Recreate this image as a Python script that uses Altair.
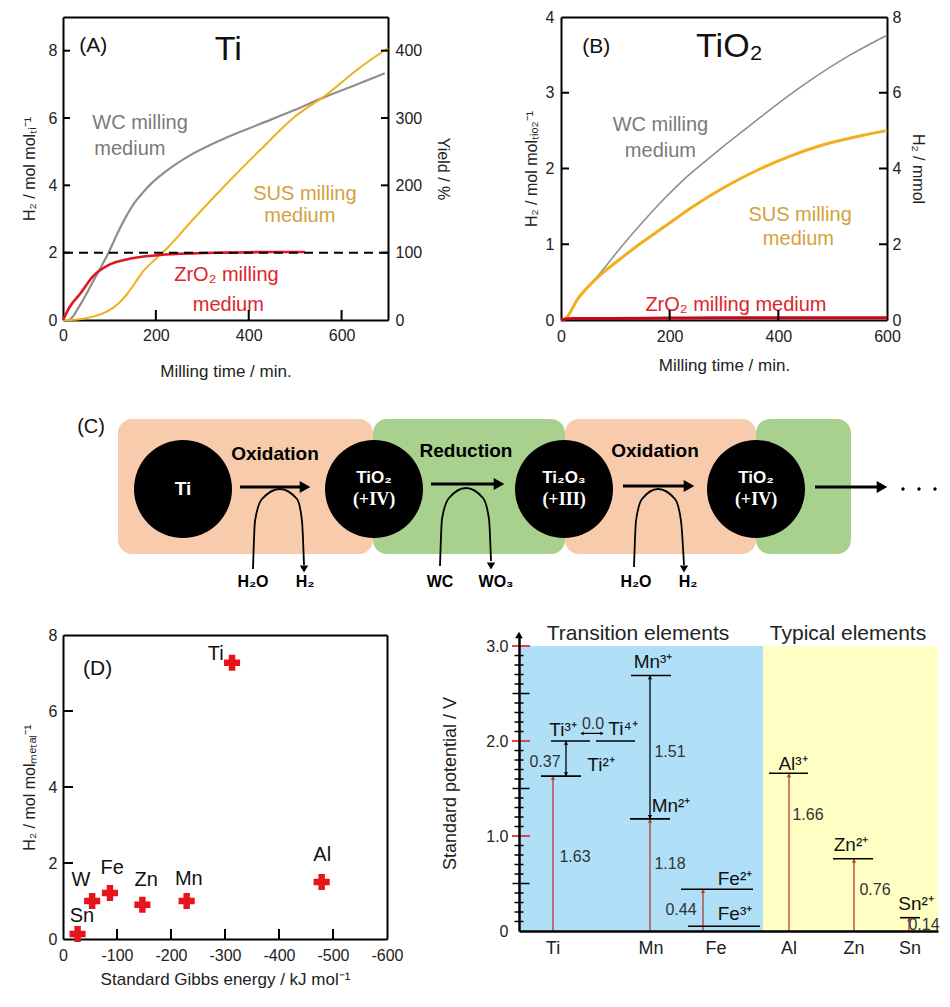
import altair as alt
import pandas as pd

FONT = "Liberation Sans"
SERIF = "Liberation Serif"

GRAY_L, GRAY_T = "#8E8E8E", "#7A7A7A"
SUS_L, SUS_T = "#F2AE1C", "#D4A13C"
RED_L, RED_T = "#E2161F", "#E0242C"
B_RED = "#C4071A"
SALMON, GREEN = "#F8CBAD", "#A9D18E"
BLUE_BG, YEL_BG = "#AFE0F8", "#FFFFC4"
E_RED = "#B23A3A"

# ---------------- Panel A : Ti ----------------
a_wc_time = [0, 12, 37, 65, 98, 120, 137, 155, 173, 190, 209, 240, 281, 352, 424, 496, 568, 630, 693]
a_wc_h2 = [0, 0.0, 0.45, 1.15, 2.0, 2.65, 3.1, 3.5, 3.8, 4.05, 4.28, 4.6, 4.95, 5.42, 5.82, 6.22, 6.65, 6.98, 7.33]
a_sus_time = [0, 15, 40, 65, 101, 120, 137, 155, 173, 200, 222, 281, 352, 424, 496, 568, 635, 700]
a_sus_h2 = [0, 0, 0.03, 0.1, 0.3, 0.5, 0.75, 1.1, 1.45, 1.82, 2.1, 3.0, 4.04, 5.04, 6.0, 6.7, 7.45, 8.08]
a_zro2_time = [0, 15, 37, 65, 101, 137, 209, 280, 352, 450, 521]
a_zro2_h2 = [0, 0.4, 0.78, 1.3, 1.65, 1.8, 1.93, 1.98, 2.0, 2.02, 2.02]
a_x_ticks = [0, 200, 400, 600]
a_y_ticks = [0, 2, 4, 6, 8]
a_yield_ticks = [0, 100, 200, 300, 400]
a_yield_ref = [100]

# ---------------- Panel B : TiO2 ----------------
b_wc_time = [0, 10, 30, 50, 70, 90, 115, 150, 190, 230, 263, 300, 350, 400, 460, 530, 600]
b_wc_h2 = [0, 0.03, 0.27, 0.44, 0.6, 0.78, 1.0, 1.29, 1.6, 1.88, 2.08, 2.3, 2.58, 2.86, 3.17, 3.49, 3.76]
b_sus_time = [0, 10, 30, 50, 70, 90, 115, 150, 190, 239, 300, 362, 424, 486, 550, 600]
b_sus_h2 = [0, 0.03, 0.27, 0.44, 0.58, 0.7, 0.84, 1.03, 1.23, 1.48, 1.75, 1.98, 2.17, 2.32, 2.43, 2.5]
b_zro2_time = [0, 20, 100, 200, 300, 400, 500, 600]
b_zro2_h2 = [0, 0.02, 0.02, 0.025, 0.03, 0.03, 0.03, 0.03]
b_x_ticks = [0, 200, 400, 600]
b_y_ticks = [0, 1, 2, 3, 4]
b_mmol_ticks = [0, 2, 4, 6, 8]

# ---------------- Panel D ----------------
d_metal = ["Sn", "W", "Fe", "Zn", "Mn", "Ti", "Al"]
d_gibbs = [-27, -54, -87, -147, -229, -313, -479]
d_h2 = [0.13, 1.0, 1.21, 0.9, 1.0, 7.27, 1.5]
d_label_x = [-35, -33, -91, -154, -233, -283, -480]
d_label_y = [0.6, 1.55, 1.87, 1.55, 1.58, 7.5, 2.2]
d_x_ticks = [0, -100, -200, -300, -400, -500, -600]
d_y_ticks = [0, 2, 4, 6, 8]

# ---------------- Panel E ----------------
e_elements = ["Ti", "Mn", "Fe", "Al", "Zn", "Sn"]
e_elem_x = [34, 132, 197, 270, 335, 391]
e_red_x = [34, 131, 184, 270, 335, 390]
e_red_top = [1.63, 1.18, 0.44, 1.66, 0.76, 0.14]
e_lvl_x1 = [22, 32, 77, 111, 112, 162, 169, 250, 314, 381]
e_lvl_x2 = [62, 71, 116, 151, 152, 234, 241, 289, 354, 401]
e_lvl_v = [1.63, 2.0, 2.0, 1.18, 2.69, 0.44, 0.05, 1.66, 0.76, 0.14]
e_ion_text = ["Mn³⁺", "Ti³⁺", "Ti⁴⁺", "Ti²⁺", "Mn²⁺", "Fe²⁺", "Fe³⁺", "Al³⁺", "Zn²⁺", "Sn²⁺"]
e_ion_x = [134, 44, 104, 82, 152, 216, 216, 274, 332, 397]
e_ion_v = [2.83, 2.12, 2.13, 1.75, 1.32, 0.55, 0.18, 1.76, 0.91, 0.28]
e_num_text = ["0.0", "0.37", "1.51", "1.63", "1.18", "0.44", "1.66", "0.76", "0.14"]
e_num_x = [74, 26, 151, 56, 151, 162, 289, 356, 405]
e_num_v = [2.18, 1.78, 1.88, 0.78, 0.71, 0.22, 1.22, 0.43, 0.06]
e_minor = [0.1, 0.2, 0.3, 0.4, 0.6, 0.7, 0.8, 0.9, 1.1, 1.2, 1.3, 1.4, 1.6, 1.7, 1.8, 1.9,
           2.1, 2.2, 2.3, 2.4, 2.6, 2.7, 2.8, 2.9]
e_mid = [0.5, 1.5, 2.5]
e_major = [1.0, 2.0, 3.0]
e_y_labels = [0, 1, 2, 3]


def df_xy(xs, ys, **extra):
    d = {"x": xs, "y": ys}
    d.update(extra)
    return pd.DataFrame(d)


def enc(xs, xa, ys, ya):
    return dict(x=alt.X("x:Q", scale=xs, axis=xa), y=alt.Y("y:Q", scale=ys, axis=ya))


def text_layer(items, e, **mk):
    df = pd.DataFrame(items, columns=["t", "x", "y"])
    return alt.Chart(df).mark_text(**mk).encode(text="t:N", **e)


def frame_axis(orient):
    return alt.Axis(orient=orient, labels=False, ticks=False, domain=True, domainColor="black",
                    domainWidth=2, title=None, grid=False)


DOM = dict(domain=True, domainColor="black", domainWidth=2, ticks=False, grid=False)

# ======== Chart A ========
xA = alt.Scale(domain=[0, 700], nice=False)
yA = alt.Scale(domain=[0, 9], nice=False)
yA2 = alt.Scale(domain=[0, 450], nice=False)
axA_x = alt.Axis(values=a_x_ticks, title="Milling time / min.", labelFlush=False, labelPadding=7,
                 labelFontSize=16, titleFontSize=17, titlePadding=20, **DOM)
axA_y = alt.Axis(values=a_y_ticks, title="H₂ / mol molₜᵢ⁻¹", labelPadding=6, labelFontSize=16,
                 titleFontSize=16, titlePadding=11, **DOM)
axA_y2 = alt.Axis(values=a_yield_ticks, orient="right", title="Yield / %", labelPadding=7,
                  labelFontSize=16, titleFontSize=16, titlePadding=13, **DOM)
eA = enc(xA, axA_x, yA, axA_y)
eA2 = enc(xA, frame_axis("top"), yA2, axA_y2)

a_wc = alt.Chart(df_xy(a_wc_time, a_wc_h2)).mark_line(color=GRAY_L, strokeWidth=2.2, interpolate="monotone").encode(**eA)
a_sus = alt.Chart(df_xy(a_sus_time, a_sus_h2)).mark_line(color=SUS_L, strokeWidth=2, interpolate="monotone").encode(**eA)
a_zr = alt.Chart(df_xy(a_zro2_time, a_zro2_h2)).mark_line(color=RED_L, strokeWidth=2.6, interpolate="monotone").encode(**eA)
a_t1 = text_layer([("(A)", 65, 8.13)], eA, fontSize=21, color="#111")
a_t2 = text_layer([("Ti", 356, 8.03)], eA, fontSize=34, color="#111")
a_t3 = text_layer([("WC milling", 166, 5.84), ("medium", 144, 5.09)], eA, fontSize=20, color=GRAY_T)
a_t4 = text_layer([("SUS milling", 521, 3.74), ("medium", 510, 3.09)], eA, fontSize=20, color=SUS_T)
a_t5 = text_layer([("ZrO₂ milling", 352, 1.35), ("medium", 356, 0.45)], eA, fontSize=20, color=RED_T)
a_tl = alt.Chart(df_xy([0] * 4, a_y_ticks[1:])).mark_tick(orient="horizontal", size=14, thickness=2, color="black", opacity=1, clip=True).encode(**eA)
a_tb = alt.Chart(df_xy(a_x_ticks[1:], [0] * 3)).mark_tick(orient="vertical", size=20, thickness=2, color="black", opacity=1, clip=True).encode(**eA)
a_dash = alt.Chart(pd.DataFrame({"y": a_yield_ref})).mark_rule(color="black", strokeWidth=2, strokeDash=[9, 6]).encode(y=eA2["y"])
a_tr = alt.Chart(df_xy([700] * 4, a_yield_ticks[1:])).mark_tick(orient="horizontal", size=14, thickness=2, color="black", opacity=1, clip=True).encode(**eA2)

A = alt.layer(
    alt.layer(a_wc, a_sus, a_zr, a_t1, a_t2, a_t3, a_t4, a_t5, a_tl, a_tb),
    alt.layer(a_dash, a_tr),
).resolve_scale(x="independent", y="independent").properties(width=325, height=303)

# ======== Chart B ========
xB = alt.Scale(domain=[0, 600], nice=False)
yB = alt.Scale(domain=[0, 4], nice=False)
yB2 = alt.Scale(domain=[0, 8], nice=False)
axB_x = alt.Axis(values=b_x_ticks, title="Milling time / min.", labelFlush=False, labelPadding=8,
                 labelFontSize=16, titleFontSize=17, titlePadding=13, **DOM)
axB_y = alt.Axis(values=b_y_ticks, title="H₂ / mol molₜᵢₒ₂⁻¹", labelPadding=7, labelFontSize=16,
                 titleFontSize=16, titlePadding=6, **DOM)
axB_y2 = alt.Axis(values=b_mmol_ticks, orient="right", title="H₂ / mmol", labelPadding=5,
                  labelFontSize=16, titleFontSize=16, titlePadding=9, **DOM)
eB = enc(xB, axB_x, yB, axB_y)
eB2 = enc(xB, frame_axis("top"), yB2, axB_y2)

b_wc = alt.Chart(df_xy(b_wc_time, b_wc_h2)).mark_line(color=GRAY_L, strokeWidth=1.6, interpolate="monotone").encode(**eB)
b_sus = alt.Chart(df_xy(b_sus_time, b_sus_h2)).mark_line(color=SUS_L, strokeWidth=3, interpolate="monotone").encode(**eB)
b_zr = alt.Chart(df_xy(b_zro2_time, b_zro2_h2)).mark_line(color=B_RED, strokeWidth=3, interpolate="monotone").encode(**eB)
b_t1 = text_layer([("(B)", 65, 3.6)], eB, fontSize=21, color="#111")
b_t2 = text_layer([("TiO₂", 310, 3.6)], eB, fontSize=34, color="#111")
b_t3 = text_layer([("WC milling", 183, 2.57), ("medium", 183, 2.23)], eB, fontSize=20, color=GRAY_T)
b_t4 = text_layer([("SUS milling", 440, 1.39), ("medium", 437, 1.07)], eB, fontSize=20, color=SUS_T)
b_t5 = text_layer([("ZrO₂ milling medium", 322, 0.2)], eB, fontSize=20, color=RED_T)
b_tl = alt.Chart(df_xy([0] * 3, b_y_ticks[1:4])).mark_tick(orient="horizontal", size=16, thickness=2, color="black", opacity=1, clip=True).encode(**eB)
b_tb = alt.Chart(df_xy(b_x_ticks[1:3], [0] * 2)).mark_tick(orient="vertical", size=20, thickness=2, color="black", opacity=1, clip=True).encode(**eB)
b_tr = alt.Chart(df_xy([600] * 3, b_mmol_ticks[1:4])).mark_tick(orient="horizontal", size=16, thickness=2, color="black", opacity=1, clip=True).encode(**eB2)

B = alt.layer(
    alt.layer(b_wc, b_sus, b_zr, b_t1, b_t2, b_t3, b_t4, b_t5, b_tl, b_tb),
    b_tr,
).resolve_scale(x="independent", y="independent").properties(width=326, height=303)

# ======== Chart C (reaction scheme, diagram units) ========
c_box_x1 = [55, 310, 502, 693]
c_box_x2 = [310, 502, 693, 788]
c_box_y1 = [49, 49, 49, 49]
c_box_y2 = [184, 184, 184, 184]
c_box_fill = [SALMON, GREEN, SALMON, GREEN]
c_node_x = [120, 311, 501, 693]
c_node_y = [114, 114, 114, 114]
c_arrow_x1 = [177, 368, 560, 752]
c_arrow_x2 = [242, 436, 626, 819]
c_arrow_y = [116, 119, 117, 116]
c_arc_id = [1] * 7 + [2] * 7 + [3] * 7
c_arc_x = [190, 192, 199, 217, 234, 239, 241,
           377, 379, 386, 403, 420, 426, 428,
           571, 573, 579, 595, 612, 618, 621]
c_arc_y = [34, 82, 104, 114, 104, 82, 38,
           37, 84, 105, 115, 105, 84, 42,
           36, 82, 104, 114, 104, 82, 38]
c_arc_head_x = [241, 428, 621]
c_arc_head_y = [34, 37, 34]
c_dots_x = [840, 856, 872]
c_dots_y = [114, 114, 114]

xC = alt.Scale(domain=[0, 875], nice=False, zero=False)
yC = alt.Scale(domain=[0, 204], nice=False, zero=False)
eC = enc(xC, None, yC, None)

c_boxes = alt.Chart(pd.DataFrame({"x": c_box_x1, "x2": c_box_x2, "y": c_box_y1, "y2": c_box_y2, "fill": c_box_fill})).mark_rect(
    cornerRadius=14).encode(x2="x2:Q", y2="y2:Q", color=alt.Color("fill:N", scale=None), **eC)
c_shaft = alt.Chart(pd.DataFrame({"x": c_arrow_x1, "x2": c_arrow_x2, "y": c_arrow_y})).mark_rule(
    color="black", strokeWidth=3).encode(x2="x2:Q", **eC)
c_heads = alt.Chart(df_xy(c_arrow_x2, c_arrow_y)).mark_point(shape="triangle-right", filled=True, size=150, color="black", opacity=1).encode(**eC)
c_arcs = alt.Chart(pd.DataFrame({"x": c_arc_x, "y": c_arc_y, "arc": c_arc_id})).mark_line(
    color="black", strokeWidth=1.8, interpolate="monotone").encode(detail="arc:N", **eC)
c_arc_heads = alt.Chart(df_xy(c_arc_head_x, c_arc_head_y)).mark_point(shape="triangle-down", filled=True, size=70, color="black", opacity=1).encode(**eC)
c_nodes = alt.Chart(df_xy(c_node_x, c_node_y)).mark_circle(size=9604, color="black", opacity=1).encode(**eC)
c_dots = alt.Chart(df_xy(c_dots_x, c_dots_y)).mark_circle(size=12, color="black", opacity=1).encode(**eC)
c_t_ti = text_layer([("Ti", 120, 114)], eC, fontSize=19, fontWeight="bold", color="white")
c_t_ox = text_layer([("TiO₂", 311, 125), ("Ti₂O₃", 501, 125), ("TiO₂", 693, 125)], eC, fontSize=17, fontWeight="bold", color="white")
c_t_val = text_layer([("(+IV)", 311, 103), ("(+III)", 501, 103), ("(+IV)", 693, 103)], eC, font=SERIF, fontSize=18, fontWeight="bold", color="white")
c_t_proc = text_layer([("Oxidation", 212, 149), ("Reduction", 403, 152), ("Oxidation", 592, 152)], eC, fontSize=19, fontWeight="bold", color="black")
c_t_reag = text_layer([("H₂O", 190, 21), ("H₂", 242, 21), ("WC", 377, 21), ("WO₃", 433, 21), ("H₂O", 573, 21), ("H₂", 625, 21)],
                      eC, fontSize=16, fontWeight="bold", color="black")
c_t_lab = text_layer([("(C)", 28, 176)], eC, fontSize=20, color="#111")

C = alt.layer(c_boxes, c_shaft, c_heads, c_arcs, c_arc_heads, c_nodes, c_dots,
              c_t_ti, c_t_ox, c_t_val, c_t_proc, c_t_reag, c_t_lab).properties(width=875, height=204)

# ======== Chart D ========
xD = alt.Scale(domain=[0, -600], nice=False, zero=False)
yD = alt.Scale(domain=[0, 8], nice=False)
axD_x = alt.Axis(values=d_x_ticks, labelExpr="'' + datum.value", title="Standard Gibbs energy / kJ mol⁻¹",
                 labelFlush=False, labelPadding=8, labelFontSize=16, titleFontSize=17, titlePadding=8, **DOM)
axD_y = alt.Axis(values=d_y_ticks, title="H₂ / mol molₘₑₜₐₗ⁻¹", labelPadding=6, labelFontSize=16,
                 titleFontSize=16, titlePadding=11, **DOM)
eD = enc(xD, axD_x, yD, axD_y)
eD2 = enc(xD, frame_axis("top"), yD, frame_axis("right"))

d_pts = alt.Chart(df_xy(d_gibbs, d_h2)).mark_point(shape="cross", filled=True, size=260, color="#E8141C", opacity=1).encode(**eD)
d_lbl = alt.Chart(pd.DataFrame({"x": d_label_x, "y": d_label_y, "t": d_metal})).mark_text(fontSize=20, color="#111").encode(text="t:N", **eD)
d_tl = alt.Chart(df_xy([0] * 3, d_y_ticks[1:4])).mark_tick(orient="horizontal", size=20, thickness=2, color="black", opacity=1, clip=True).encode(**eD)
d_tb = alt.Chart(df_xy(d_x_ticks[1:6], [0] * 5)).mark_tick(orient="vertical", size=20, thickness=2, color="black", opacity=1, clip=True).encode(**eD)
d_tag = text_layer([("(D)", -64, 7.11)], eD2, fontSize=21, color="#111")

D = alt.layer(
    alt.layer(d_pts, d_lbl, d_tl, d_tb),
    d_tag,
).resolve_scale(x="independent", y="independent").properties(width=324, height=304)

# ======== Chart E ========
xE = alt.Scale(domain=[0, 419], nice=False, zero=False)
yE = alt.Scale(domain=[0, 3.116], nice=False, zero=False)
axE_x = alt.Axis(labels=False, ticks=False, domain=True, domainColor="black", domainWidth=2.5, title=None, zindex=2)
axE_y = alt.Axis(values=e_y_labels, labelExpr="datum.value == 0 ? '0' : format(datum.value, '.1f')",
                 ticks=False, domain=True, domainColor="black", domainWidth=2.5, labelPadding=11,
                 labelFontSize=16, title="Standard potential / V", titleFontSize=18, titlePadding=26, zindex=2)
eE = enc(xE, axE_x, yE, axE_y)

e_bg = alt.Chart(pd.DataFrame({"x": [0, 244], "x2": [244, 419], "y": [0, 0], "y2": [3.0, 3.0],
                               "fill": [BLUE_BG, YEL_BG]})).mark_rect().encode(
    x2="x2:Q", y2="y2:Q", color=alt.Color("fill:N", scale=None), **eE)
e_red = alt.Chart(pd.DataFrame({"x": e_red_x, "y": [0] * 6, "y2": e_red_top})).mark_rule(
    color=E_RED, strokeWidth=1.3).encode(y2="y2:Q", **eE)
e_red_h = alt.Chart(df_xy(e_red_x, e_red_top)).mark_point(shape="triangle-up", filled=True, size=18, color=E_RED, opacity=1, yOffset=2).encode(**eE)
e_blk = alt.Chart(pd.DataFrame({"x": [47, 131], "y": [1.63, 1.18], "y2": [2.0, 2.69]})).mark_rule(
    color="black", strokeWidth=1.3).encode(y2="y2:Q", **eE)
e_blk_up = alt.Chart(df_xy([47, 131], [2.0, 2.69])).mark_point(shape="triangle-up", filled=True, size=18, color="black", opacity=1, yOffset=2).encode(**eE)
e_blk_dn = alt.Chart(df_xy([47, 131], [1.63, 1.18])).mark_point(shape="triangle-down", filled=True, size=18, color="black", opacity=1, yOffset=-2).encode(**eE)
e_h = alt.Chart(pd.DataFrame({"x": [63], "x2": [83], "y": [2.08]})).mark_rule(color="black", strokeWidth=1.2).encode(x2="x2:Q", **eE)
e_h_l = alt.Chart(df_xy([63], [2.08])).mark_point(shape="triangle-left", filled=True, size=14, color="black", opacity=1).encode(**eE)
e_h_r = alt.Chart(df_xy([83], [2.08])).mark_point(shape="triangle-right", filled=True, size=14, color="black", opacity=1).encode(**eE)
e_lvl = alt.Chart(pd.DataFrame({"x": e_lvl_x1, "x2": e_lvl_x2, "y": e_lvl_v})).mark_rule(
    color="black", strokeWidth=1.6).encode(x2="x2:Q", **eE)
e_ions = alt.Chart(pd.DataFrame({"x": e_ion_x, "y": e_ion_v, "t": e_ion_text})).mark_text(fontSize=19, color="#111").encode(text="t:N", **eE)
e_nums = alt.Chart(pd.DataFrame({"x": e_num_x, "y": e_num_v, "t": e_num_text})).mark_text(fontSize=16, color="#333").encode(text="t:N", **eE)
e_elem = alt.Chart(pd.DataFrame({"x": e_elem_x, "y": [-0.19] * 6, "t": e_elements})).mark_text(fontSize=18, color="#222").encode(text="t:N", **eE)
e_head = text_layer([("Transition elements", 119, 3.126), ("Typical elements", 329, 3.126)], eE, fontSize=21, color="#222")
e_tk_minor = alt.Chart(df_xy([0] * len(e_minor), e_minor)).mark_tick(orient="horizontal", size=9, thickness=1.5, color="black", opacity=1).encode(**eE)
e_tk_mid = alt.Chart(df_xy([0] * 3, e_mid)).mark_tick(orient="horizontal", size=17, thickness=1.5, color="black", opacity=1, xOffset=2).encode(**eE)
e_tk_major = alt.Chart(df_xy([0] * 3, e_major)).mark_tick(orient="horizontal", size=18, thickness=2, color="#E04545", opacity=1, xOffset=2).encode(**eE)
e_top = alt.Chart(df_xy([0], [3.116])).mark_point(shape="triangle-up", filled=True, size=60, color="black", opacity=1).encode(**eE)

E = alt.layer(e_bg, e_red, e_red_h, e_blk, e_blk_up, e_blk_dn, e_h, e_h_l, e_h_r, e_lvl,
              e_ions, e_nums, e_elem, e_head, e_tk_minor, e_tk_mid, e_tk_major, e_top).properties(width=419, height=296)

row1 = alt.hconcat(A, B, spacing=173, bounds="flush")
row3 = alt.hconcat(D, E, spacing=132, bounds="flush")

chart = alt.vconcat(row1, C, row3, spacing=20).properties(
    padding={"left": 13, "top": 1, "right": 0, "bottom": 5}
).configure(font=FONT).configure_view(strokeWidth=0).configure_axis(
    grid=False, labelColor="#222", titleColor="#222", titleFontWeight="normal",
    labelFont=FONT, titleFont=FONT
)

chart.save("out.html", embed_options={"renderer": "svg", "actions": False})
